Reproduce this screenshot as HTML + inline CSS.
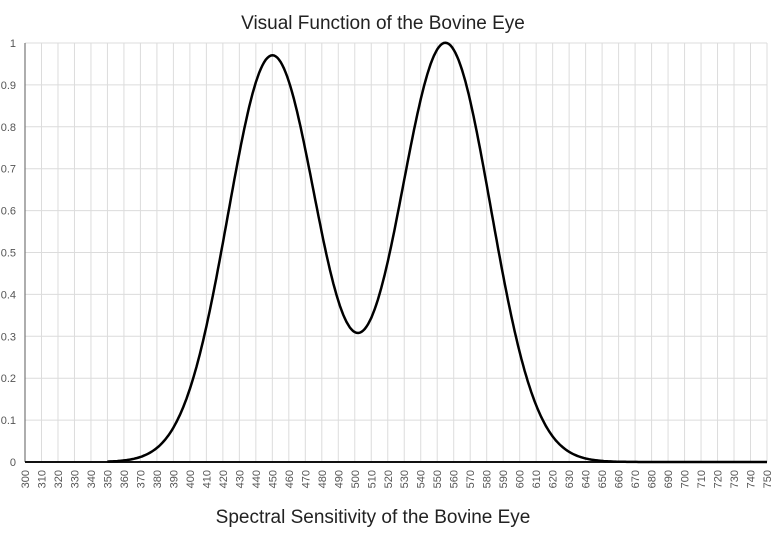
<!DOCTYPE html>
<html><head><meta charset="utf-8"><style>
body{margin:0;background:#fff;}
svg{display:block;font-family:"Liberation Sans",sans-serif;}
</style></head><body>
<svg id="s" width="776" height="544" xmlns="http://www.w3.org/2000/svg">
<text x="383" y="29" text-anchor="middle" font-size="19" fill="#222">Visual Function of the Bovine Eye</text>
<text x="373" y="523" text-anchor="middle" font-size="19" fill="#222">Spectral Sensitivity of the Bovine Eye</text>
<g id="g"></g>
</svg>
<script>
var g=document.getElementById('g'),h='';
var X0=25,X1=767,Y0=462,Y1=43;
function px(w){return X0+(w-300)/450*(X1-X0);}
function py(v){return Y0-v*(Y0-Y1);}
for(var i=0;i<=45;i++){var x=px(300+i*10);
h+='<line x1="'+x+'" y1="'+Y1+'" x2="'+x+'" y2="'+Y0+'" stroke="#dcdcdc" stroke-width="1"/>';
h+='<text transform="translate('+(x+4)+',470) rotate(-90)" text-anchor="end" font-size="11" fill="#555">'+(300+i*10)+'</text>';}
for(var j=0;j<=10;j++){var y=py(j/10);
h+='<line x1="'+X0+'" y1="'+y+'" x2="'+X1+'" y2="'+y+'" stroke="#dcdcdc" stroke-width="1"/>';
h+='<text x="16" y="'+(y+4)+'" text-anchor="end" font-size="11" fill="#555">'+(j==0?'0':j==10?'1':'0.'+j)+'</text>';}
h+='<line x1="'+X0+'" y1="'+Y1+'" x2="'+X0+'" y2="'+Y0+'" stroke="#777" stroke-width="1.2"/>';
h+='<line x1="'+X0+'" y1="'+Y0+'" x2="'+X1+'" y2="'+Y0+'" stroke="#111" stroke-width="2"/>';
var d='';
for(var w=350;w<=750;w+=1){
var v=0.97*Math.exp(-Math.pow(w-450,2)/(2*27*27))+1.0*Math.exp(-Math.pow(w-555,2)/(2*27.5*27.5));
d+=(w==350?'M':'L')+px(w).toFixed(1)+','+py(v).toFixed(1);}
h+='<path d="'+d+'" fill="none" stroke="#000" stroke-width="2.5"/>';
g.innerHTML=h;
</script>
</body></html>
